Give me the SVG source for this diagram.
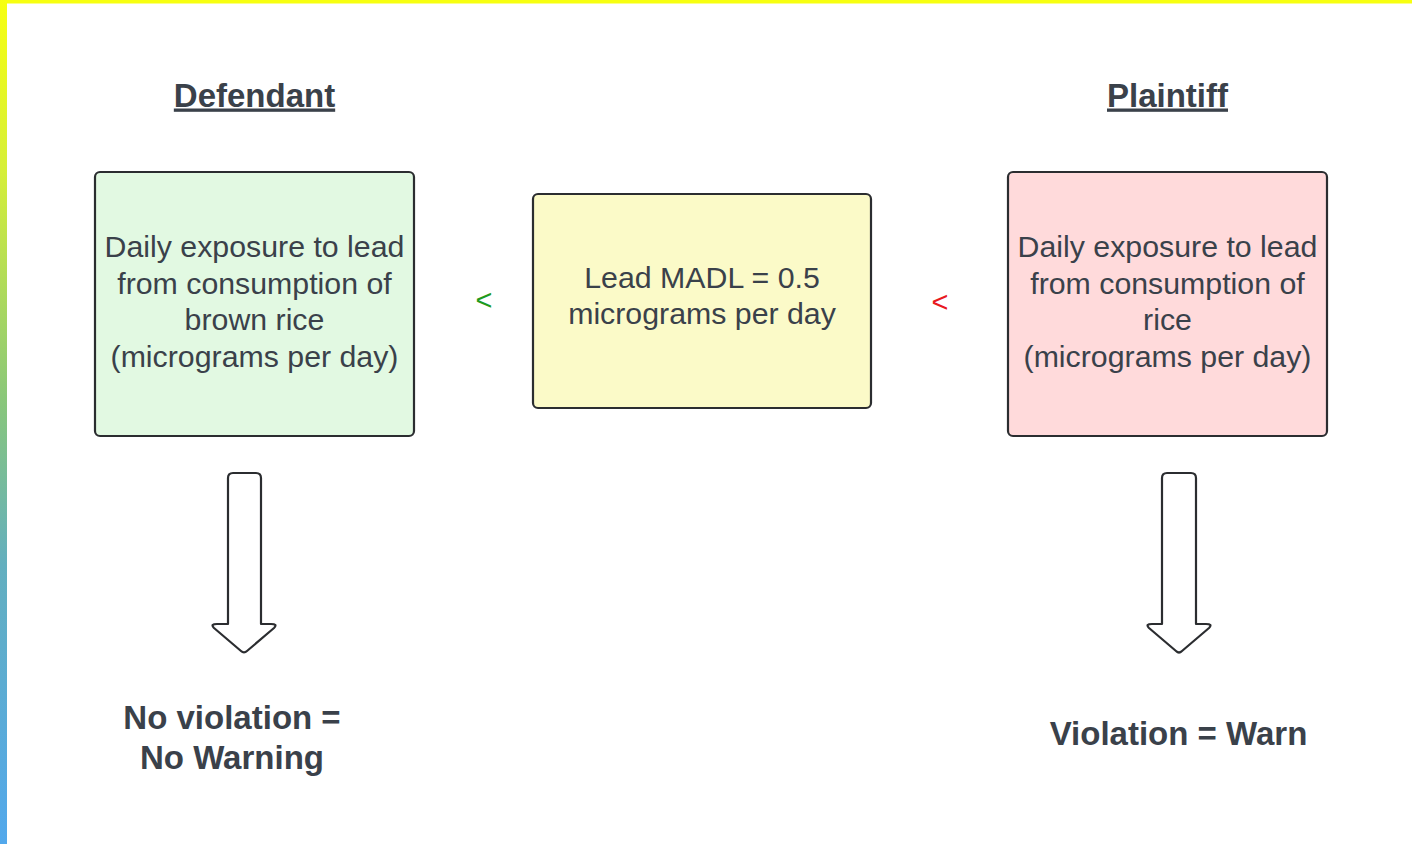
<svg xmlns="http://www.w3.org/2000/svg" width="1412" height="844" viewBox="0 0 1412 844">
<defs>
<linearGradient id="stripe" x1="0" y1="0" x2="0" y2="1">
<stop offset="0" stop-color="#f7ff10"/>
<stop offset="0.2" stop-color="#d6ef38"/>
<stop offset="0.48" stop-color="#88c67c"/>
<stop offset="0.67" stop-color="#63afbf"/>
<stop offset="1" stop-color="#52a8ec"/>
</linearGradient>
<style>
.box{stroke:#2b2d30;stroke-width:2.2}
.t{font-family:"Liberation Sans",Arial,sans-serif;font-size:30.3px;fill:#3a414a;text-anchor:middle}
.h{font-family:"Liberation Sans",Arial,sans-serif;font-size:33px;font-weight:bold;fill:#3a414a;text-anchor:middle}
.arrow{fill:#fff;stroke:#2b2d30;stroke-width:2.2;stroke-linejoin:round}
.lt{font-family:"Liberation Sans",Arial,sans-serif;font-size:29px;text-anchor:middle}
</style>
</defs>
<rect width="1412" height="844" fill="#fff"/>
<rect x="0" y="0" width="1412" height="3.5" fill="#f7ff10"/>
<rect x="0" y="0" width="7" height="844" fill="url(#stripe)"/>

<g id="defendant-title"><text class="h" x="254.5" y="106.5" text-decoration="underline">Defendant</text></g>
<g id="plaintiff-title"><text class="h" x="1167.5" y="106.5" text-decoration="underline">Plaintiff</text></g>

<g id="defendant-box">
<rect class="box" x="95" y="172" width="319" height="264" rx="5" fill="#e2f9e2"/>
<text class="t" x="254.5" y="257">Daily exposure to lead</text>
<text class="t" x="254.5" y="293.5">from consumption of</text>
<text class="t" x="254.5" y="330">brown rice</text>
<text class="t" x="254.5" y="366.5">(micrograms per day)</text>
</g>

<g id="madl-box">
<rect class="box" x="533" y="194" width="338" height="214" rx="5" fill="#fbfac8"/>
<text class="t" x="702" y="287.5">Lead MADL = 0.5</text>
<text class="t" x="702" y="324">micrograms per day</text>
</g>

<g id="plaintiff-box">
<rect class="box" x="1008" y="172" width="319" height="264" rx="5" fill="#ffdadb"/>
<text class="t" x="1167.5" y="257">Daily exposure to lead</text>
<text class="t" x="1167.5" y="293.5">from consumption of</text>
<text class="t" x="1167.5" y="330">rice</text>
<text class="t" x="1167.5" y="366.5">(micrograms per day)</text>
</g>

<g id="lt-green"><text class="lt" x="484" y="310" fill="#1e9a1e">&lt;</text></g>
<g id="lt-red"><text class="lt" x="940" y="312" fill="#e8191f">&lt;</text></g>

<g id="connectors">
<path class="arrow" d="M233 473 H256 Q261 473 261 478 V624 H271 Q278 624 274 628 L247 651 Q244 654 241 651 L214 628 Q210 624 217 624 H228 V478 Q228 473 233 473 Z"/>
<path class="arrow" d="M1167 473 H1191 Q1196 473 1196 478 V624 H1206 Q1213 624 1209 628 L1182 651 Q1179 654 1176 651 L1149 628 Q1145 624 1152 624 H1162 V478 Q1162 473 1167 473 Z"/>
</g>

<g id="no-violation">
<text class="h" x="232" y="728.5">No violation =</text>
<text class="h" x="232" y="768.5">No Warning</text>
</g>
<g id="violation"><text class="h" x="1178.5" y="744.5">Violation = Warn</text></g>
</svg>
